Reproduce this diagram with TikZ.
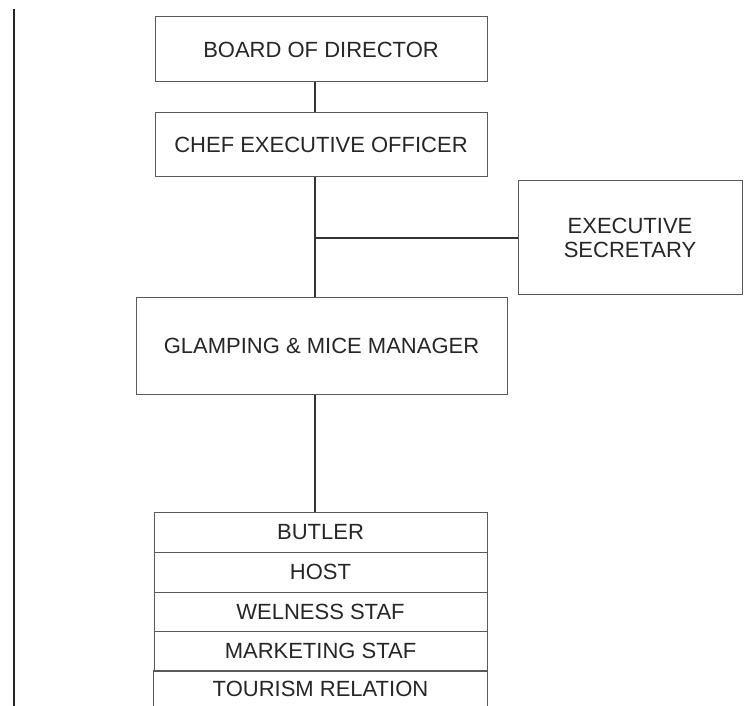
\documentclass[tikz,border=0pt]{standalone}
\usepackage{fontspec}
\setmainfont{Liberation Sans}
\begin{document}
\begin{tikzpicture}[x=1pt,y=-1pt,line width=1pt,draw=black!75]

	\def \spinex{315}
	\tikzstyle{o-box}=[draw=black!65,rectangle,inner sep=0pt,text=black!85,font=\fontsize{22}{24}\selectfont,align=center]
	\tikzstyle{s-row}=[o-box,minimum width=333pt,minimum height=40pt]
	\tikzstyle{link}=[draw=black!80,line width=1.1pt]
	\useasboundingbox (0,0) rectangle (750,706);

	% page edge
	\coordinate (edgetop) at (14,9);
	\coordinate (edgebot) at (14,706);
	\draw[line width=2pt,black!85] (edgetop) -- (edgebot);

	% top of chart
	\node[o-box,minimum width=332pt,minimum height=65pt] (bod) at (321,49.5) {BOARD OF DIRECTOR};
	\node[o-box,minimum width=332pt,minimum height=64pt] (ceo) at (321,145) {CHEF EXECUTIVE OFFICER};
	\node[o-box,minimum width=224pt,minimum height=113pt] (sec) at (630,237.5) {EXECUTIVE\\SECRETARY};
	\node[o-box,minimum width=371pt,minimum height=97pt] (gmm) at (321.5,345.5) {GLAMPING \& MICE MANAGER};

	% staff rows
	\node[s-row] 	(butler)	at (320.5,532)		{BUTLER};
	\node[s-row] 	(host)		at (320.5,572)		{HOST};
	\node[s-row,minimum height=39pt] 	(welness)	at (320.5,611.5)	{WELNESS STAF};
	\node[s-row] 	(marketing)	at (320.5,651)		{MARKETING STAF};
	\node[s-row,draw=none,minimum height=35pt] 	(tourism)	at (320.5,688.5)	{TOURISM RELATION};
	\draw[black!65] (tourism.south west) -- (tourism.north west) -- (tourism.north east) -- (tourism.south east);

	% connectors
	\coordinate (spine) at (\spinex,0);
	\coordinate (branch) at (\spinex,238);
	\draw[link] (bod.south -| spine) -- (ceo.north -| spine);
	\draw[link] (ceo.south -| spine) -- (gmm.north -| spine);
	\draw[link] (branch) -- (branch -| sec.west);
	\draw[link] (gmm.south -| spine) -- (butler.north -| spine);
\end{tikzpicture}
\end{document}
